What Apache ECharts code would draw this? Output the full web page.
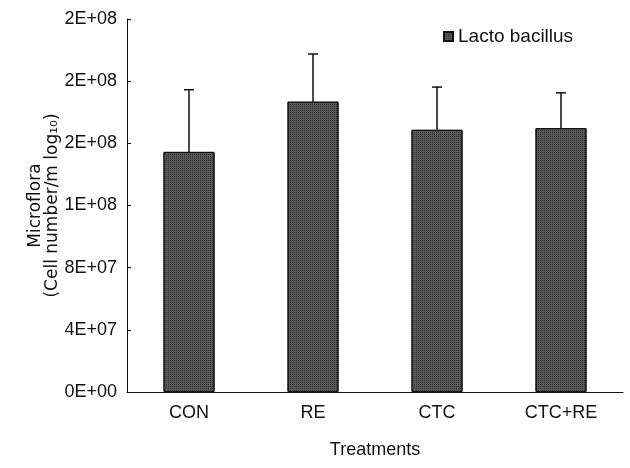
<!DOCTYPE html>
<html>
<head>
<meta charset="utf-8">
<script src="https://cdn.jsdelivr.net/npm/echarts@6/dist/echarts.min.js"></script>
<style>html,body{margin:0;padding:0;background:#fff}#c{width:630px;height:468px}</style>
</head>
<body>
<div id="c"></div>
<script>
var categories = ['CON', 'RE', 'CTC', 'CTC+RE'];
var lactoValues = [1.545e8, 1.868e8, 1.687e8, 1.698e8];
var errorTops = [1.945e8, 2.175e8, 1.962e8, 1.925e8];
var yTickLabels = ['0E+00', '4E+07', '8E+07', '1E+08', '2E+08', '2E+08', '2E+08'];
var seriesName = 'Lacto bacillus';

var FONT = '"Liberation Sans", Arial, sans-serif';
var chart = echarts.init(document.getElementById('c'));
var errData = categories.map(function (c, i) { return [i, lactoValues[i], errorTops[i]]; });

chart.setOption({
  animation: false,
  grid: { left: 127, right: 7, top: 19, bottom: 76, containLabel: false },
  legend: {
    data: [{ name: seriesName, icon: 'rect' }],
    left: 438, top: 22,
    itemWidth: 9, itemHeight: 9, itemGap: 4,
    textStyle: { fontFamily: FONT, fontSize: 19, color: '#111' }
  },
  xAxis: {
    type: 'category',
    data: categories,
    name: 'Treatments',
    nameLocation: 'middle',
    nameGap: 49,
    nameMoveOverlap: false,
    nameTextStyle: { fontFamily: FONT, fontSize: 18, color: '#111' },
    axisLine: { lineStyle: { color: '#111', width: 1 } },
    axisTick: { inside: true, length: 4, lineStyle: { color: '#111' } },
    axisLabel: { fontFamily: FONT, fontSize: 18, color: '#111', margin: 12 }
  },
  yAxis: {
    type: 'value',
    min: 0, max: 2.4e8, interval: 4e7,
    name: 'Microflora\n(Cell number/m log\u2081\u2080)',
    nameLocation: 'middle',
    nameGap: 66,
    nameMoveOverlap: false,
    nameRotate: 90,
    nameTextStyle: { fontFamily: '"DejaVu Sans", sans-serif', fontSize: 17, color: '#111', lineHeight: 17, align: 'center' },
    axisLine: { show: true, lineStyle: { color: '#111', width: 1 } },
    axisTick: { show: true, inside: true, length: 4, lineStyle: { color: '#111' } },
    splitLine: { show: false },
    axisLabel: {
      fontFamily: FONT, fontSize: 18, color: '#111', margin: 10,
      formatter: function (v) { return yTickLabels[Math.round(v / 4e7)]; }
    }
  },
  series: [
    {
      name: seriesName,
      type: 'bar',
      data: lactoValues,
      barWidth: 51,
      itemStyle: { color: '#575757', borderColor: '#111', borderWidth: 1,
        decal: { symbol: 'rect', symbolSize: 1, color: 'rgba(15,15,15,0.5)', dashArrayX: [1, 1], dashArrayY: [1, 1], rotation: 0 } }
    },
    {
      type: 'custom',
      data: errData,
      z: 3,
      renderItem: function (params, api) {
        var x = api.value(0);
        var p0 = api.coord([x, api.value(1)]);
        var p1 = api.coord([x, api.value(2)]);
        var half = 5;
        var st = { stroke: '#111', lineWidth: 1.5 };
        return {
          type: 'group',
          children: [
            { type: 'line', shape: { x1: p0[0], y1: p0[1], x2: p1[0], y2: p1[1] }, style: st },
            { type: 'line', shape: { x1: p1[0] - half, y1: p1[1], x2: p1[0] + half, y2: p1[1] }, style: st }
          ]
        };
      }
    }
  ]
});
</script>
</body>
</html>
